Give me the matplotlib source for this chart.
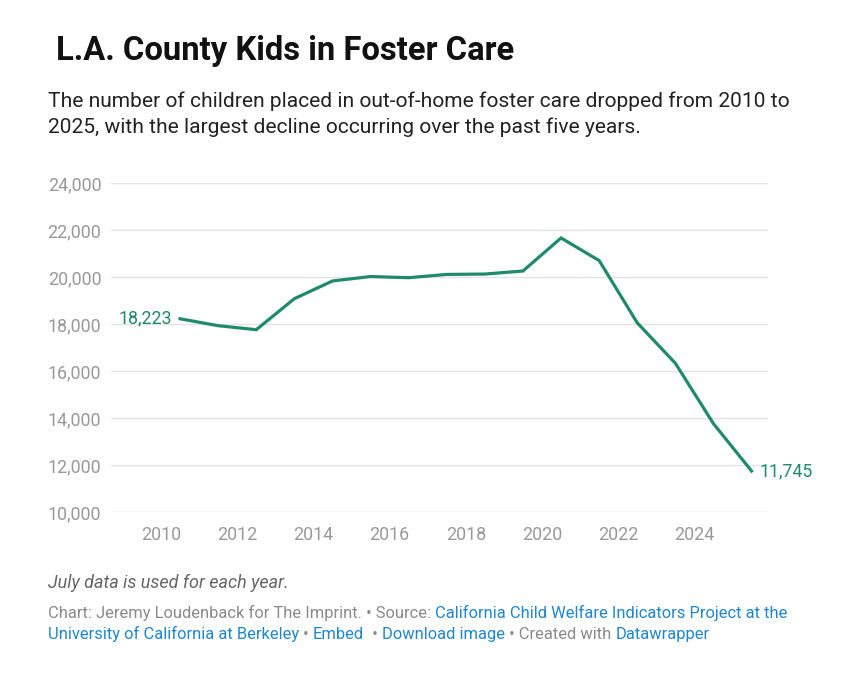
import matplotlib
matplotlib.use("Agg")
import matplotlib.pyplot as plt
from matplotlib.ticker import FuncFormatter

# ---- data ----
years = [2010.5, 2011.5, 2012.5, 2013.5, 2014.5, 2015.5, 2016.5, 2017.5,
         2018.5, 2019.5, 2020.5, 2021.5, 2022.5, 2023.5, 2024.5, 2025.5]
kids = [18223, 17928, 17757, 19077, 19830, 20020, 19970, 20110,
        20125, 20255, 21660, 20700, 18050, 16330, 13760, 11745]
x_ticks = [2010, 2012, 2014, 2016, 2018, 2020, 2022, 2024]
y_ticks = [10000, 12000, 14000, 16000, 18000, 20000, 22000, 24000]

title = "L.A. County Kids in Foster Care"
subtitle = ("The number of children placed in out-of-home foster care dropped from 2010 to\n"
            "2025, with the largest decline occurring over the past five years.")
note = "July data is used for each year."

GREEN = "#1f8a6c"
GREY = "#999999"
LINK = "#1f86cf"
FOOT = "#8a8a8a"

plt.rcParams['font.family'] = ['Roboto', 'DejaVu Sans']

W, H = 845, 676
fig = plt.figure(figsize=(W / 100, H / 100), dpi=100)

def px(x0, y0):
    return x0 / W, 1 - y0 / H

# axes: x from 111 to 768 px, y from 183 to 512 px
left, right, top, bottom = 111, 768, 183, 512
ax = fig.add_axes([left / W, 1 - bottom / H, (right - left) / W, (bottom - top) / H])

ax.plot(years, kids, color=GREEN, lw=2.3, solid_joinstyle='miter', zorder=3, clip_on=False)

x_lo = 2010 + (left - 161) / 38.1
x_hi = 2010 + (right - 161) / 38.1
ax.set_xlim(x_lo, x_hi)
ax.set_ylim(10000, 24000)
ax.set_yticks(y_ticks)
ax.set_xticks(x_ticks)
ax.yaxis.set_major_formatter(FuncFormatter(lambda v, p: f"{int(v):,}"))
ax.grid(axis='y', color='#e3e3e3', lw=1)
ax.set_axisbelow(True)
for s in ax.spines.values():
    s.set_visible(False)
ax.tick_params(axis='both', length=0, labelsize=12.9, labelcolor=GREY)
ax.tick_params(axis='y', pad=7)
ax.tick_params(axis='x', pad=10)

# value labels
ax.annotate(f"{kids[0]:,}", (years[0], kids[0]), xytext=(-6, 0), textcoords='offset points',
            ha='right', va='center', color=GREEN, fontsize=12.8)
ax.annotate(f"{kids[-1]:,}", (years[-1], kids[-1]), xytext=(6, 0), textcoords='offset points',
            ha='left', va='center', color=GREEN, fontsize=12.8)

# titles
fig.text(*px(56, 51), title, fontsize=23.6, fontweight='bold', color='#111111',
         ha='left', va='center')
fig.text(*px(48, 114), subtitle, fontsize=15.1, color='#222222', ha='left', va='center',
         linespacing=1.42)

fig.text(*px(48, 583), note, fontsize=13, color='#666666', style='italic',
         ha='left', va='center')

# footer with mixed colors
renderer = fig.canvas.get_renderer()

def seq(x0, y0, parts, size=11.9):
    x = x0 / W
    y = 1 - y0 / H
    for txt, col in parts:
        t = fig.text(x, y, txt, fontsize=size, color=col, ha='left', va='baseline')
        bb = t.get_window_extent(renderer=renderer)
        x = bb.x1 / (W)

seq(48, 618, [("Chart: Jeremy Loudenback for The Imprint. \u2022 Source: ", FOOT),
              ("California Child Welfare Indicators Project at the", LINK)])
seq(48, 639, [("University of California at Berkeley", LINK),
              (" \u2022 ", FOOT),
              ("Embed", LINK),
              ("  \u2022 ", FOOT),
              ("Download image", LINK),
              (" \u2022 Created with ", FOOT),
              ("Datawrapper", LINK)])

fig.savefig("out.png", dpi=100, facecolor='white')
